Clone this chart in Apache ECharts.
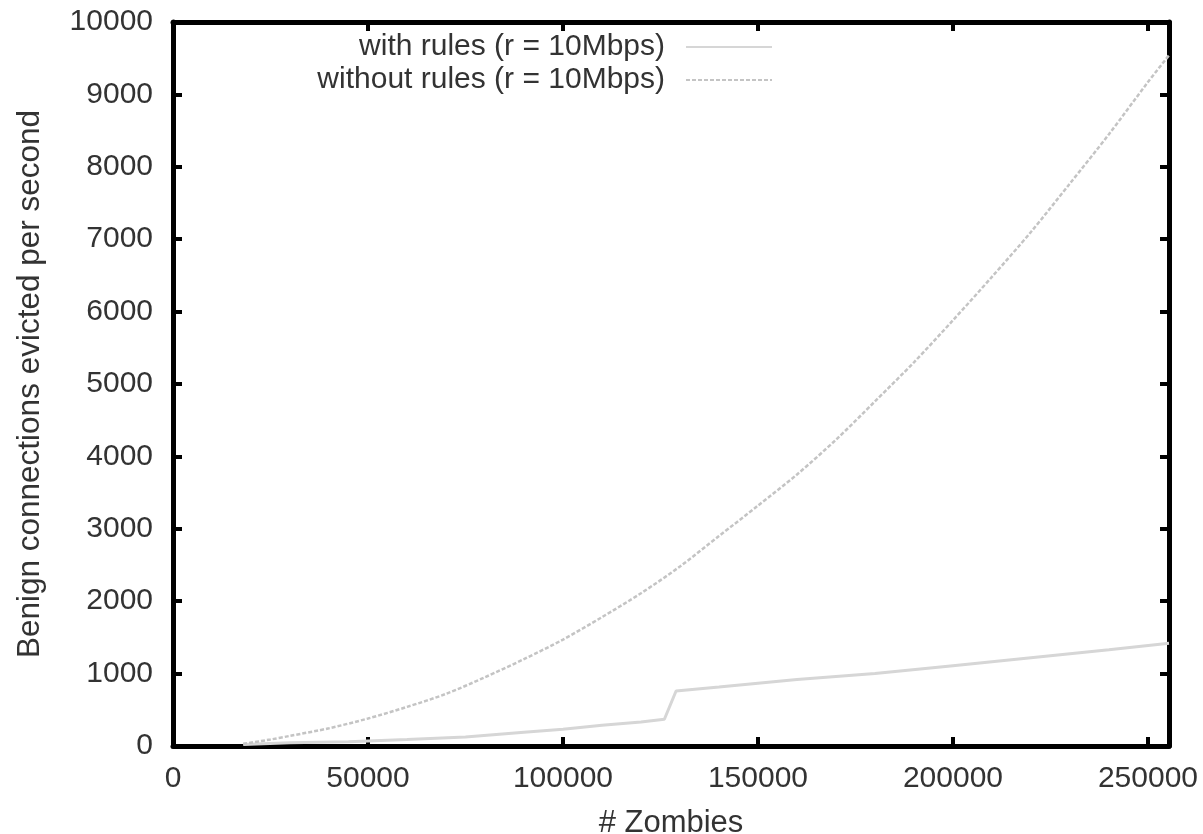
<!DOCTYPE html>
<html>
<head>
<meta charset="utf-8">
<title>Benign connections evicted per second</title>
<script src="https://cdn.jsdelivr.net/npm/echarts@6/dist/echarts.min.js"></script>
<style>
  html, body { margin: 0; padding: 0; background: #fff; }
  #chart { width: 1203px; height: 834px; }
</style>
</head>
<body>
<div id="chart"></div>
<script>
// values
const withRulesX = [18000, 30000, 45000, 60000, 75000, 90000, 100000, 110000, 120000, 126000,
  129000, 140000, 160000, 180000, 200000, 220000, 240000, 255400]
const withRulesY = [20, 45, 60, 90, 125, 190, 230, 285, 330, 370,
  760, 815, 920, 1000, 1110, 1220, 1330, 1420]

const withoutRulesX = [18000, 25000, 30000, 40000, 50000, 60000, 70000, 80000, 90000, 100000,
  110000, 120000, 130000, 140000, 150000, 160000, 170000, 180000, 190000, 200000,
  210000, 220000, 230000, 240000, 250000, 255400]
const withoutRulesY = [30, 90, 140, 245, 380, 540, 720, 950, 1200, 1470,
  1780, 2110, 2480, 2900, 3320, 3750, 4230, 4760, 5300, 5880,
  6480, 7100, 7770, 8450, 9170, 9540]

const seriesNames = ['with rules (r = 10Mbps)', 'without rules (r = 10Mbps)']
const xTicks = [0, 50000, 100000, 150000, 200000, 250000]

const font = '"Liberation Sans", Arial, sans-serif'
const pairs = (xs, ys) => xs.map((x, i) => [x, ys[i]])

const chart = echarts.init(document.getElementById('chart'))

// gnuplot-like frame: four axes, ticks pointing inward
const frameLine = { show: true, onZero: false, lineStyle: { color: '#000', width: 5 } }
const frameTick = { show: true, inside: true, length: 9, lineStyle: { color: '#000', width: 4 } }

chart.setOption({
  animation: false,
  grid: { left: 173, right: 34, top: 22, bottom: 88, outerBoundsMode: 'none', containLabel: false },
  legend: {
    orient: 'vertical',
    align: 'right',
    right: 430,
    top: 32,
    padding: 0,
    itemGap: 3,
    itemWidth: 86,
    itemHeight: 14,
    itemStyle: { opacity: 0 },
    textStyle: { fontFamily: font, fontSize: 30, color: '#333', lineHeight: 30, padding: [0, 16, 0, 0] },
    data: seriesNames,
  },
  xAxis: [{
    type: 'value',
    min: 0,
    max: 255400,
    interval: 50000,
    name: '# Zombies',
    nameLocation: 'middle',
    nameGap: 62,
    nameTextStyle: { fontFamily: font, fontSize: 31, color: '#333' },
    axisLine: frameLine,
    axisTick: frameTick,
    splitLine: { show: false },
    axisLabel: {
      fontFamily: font, fontSize: 30, color: '#333', margin: 18,
      formatter: v => xTicks.includes(v) ? String(v) : '',
    },
  }, {
    type: 'value',
    position: 'top',
    min: 0,
    max: 255400,
    interval: 50000,
    axisLine: frameLine,
    axisTick: frameTick,
    axisLabel: { show: false },
    splitLine: { show: false },
  }],
  yAxis: [{
    type: 'value',
    min: 0,
    max: 10000,
    interval: 1000,
    name: 'Benign connections evicted per second',
    nameLocation: 'middle',
    nameGap: 127,
    nameTextStyle: { fontFamily: font, fontSize: 31.5, color: '#333' },
    axisLine: frameLine,
    axisTick: frameTick,
    splitLine: { show: false },
    axisLabel: { fontFamily: font, fontSize: 30, color: '#333', margin: 20, formatter: v => String(v) },
  }, {
    type: 'value',
    position: 'right',
    min: 0,
    max: 10000,
    interval: 1000,
    axisLine: frameLine,
    axisTick: frameTick,
    axisLabel: { show: false },
    splitLine: { show: false },
  }],
  series: [{
    name: seriesNames[0],
    type: 'line',
    symbol: 'none',
    data: pairs(withRulesX, withRulesY),
    lineStyle: { color: '#d6d6d6', width: 3 },
    itemStyle: { color: '#d6d6d6' },
  }, {
    name: seriesNames[1],
    type: 'line',
    symbol: 'none',
    smooth: 0.3,
    data: pairs(withoutRulesX, withoutRulesY),
    lineStyle: { color: '#c4c4c4', width: 2.5, type: [4, 2] },
    itemStyle: { color: '#c4c4c4' },
  }],
})
</script>
</body>
</html>
